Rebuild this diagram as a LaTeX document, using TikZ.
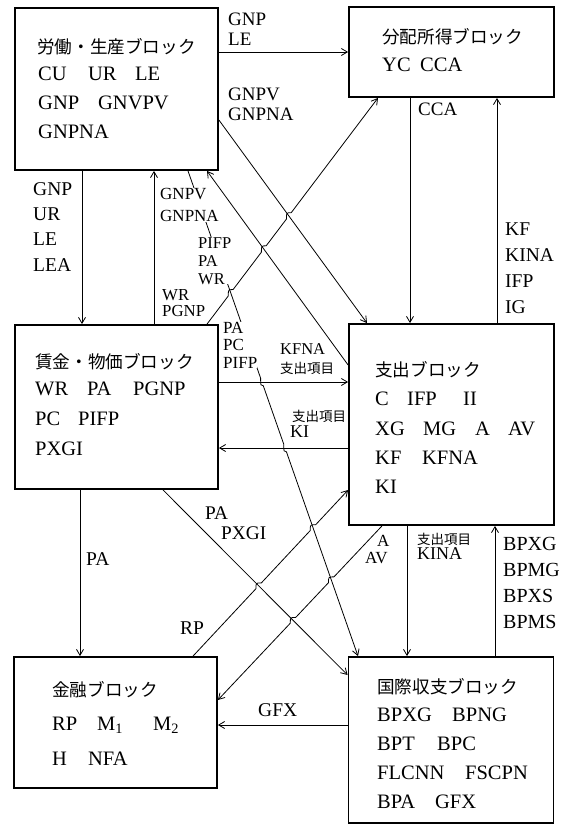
\documentclass[tikz,border=0pt]{standalone}
\usepackage{fontspec}
\setmainfont{Liberation Serif}
\newfontfamily\jpfont{Noto Sans CJK JP}
\usetikzlibrary{arrows.meta,calc,intersections}
\newcommand{\mb}[2]{\makebox[#1pt][l]{#2}}
\newcommand{\jsm}{\jpfont\fontsize{13.5}{16}\selectfont}
\begin{document}
\begin{tikzpicture}[x=1pt,y=-1pt,
 blk/.style={draw,line width=1.8pt,inner sep=0pt},
 con/.style={line width=0.8pt,-{Straight Barb[length=6pt,width=7pt,line width=0.8pt]}},
 ttl/.style={font=\jpfont\fontsize{17.6}{20}\selectfont,inner sep=0pt,anchor=west},
 bx/.style={inner sep=0pt,anchor=north west,align=left},
 lb/.style={inner sep=0pt,anchor=north west,align=left},
 wf/.style={fill=white}
]
\useasboundingbox (0,0) rectangle (571,825);
% blocks
\node[blk,minimum width=203pt,minimum height=162pt] (b1) at (116.5,89) {};
\node[blk,minimum width=205pt,minimum height=90pt] (b2) at (451.5,52) {};
\node[blk,minimum width=203pt,minimum height=164pt] (b3) at (116.5,407) {};
\node[blk,minimum width=205pt,minimum height=201pt] (b4) at (451.5,424.5) {};
\node[blk,minimum width=203pt,minimum height=131pt] (b5) at (115.5,722.5) {};
\node[blk,minimum width=205pt,minimum height=166pt] (b6) at (451,740) {};
% straight connectors
\draw[con] (b1.east |- b2.west) -- (b2.west);
\draw[con] ([xshift=-34.5pt]b1.south) -- ([xshift=-34.5pt]b3.north);
\draw[con] ([xshift=37.5pt]b3.north) -- ([xshift=37.5pt]b1.south);
\draw[con] ([xshift=-41.5pt]b2.south) -- ([xshift=-41.5pt]b4.north);
\draw[con] ([xshift=45.5pt]b4.north) -- ([xshift=45.5pt]b2.south);
\draw[con] ([xshift=-36.5pt]b3.south) -- ([xshift=-35.5pt]b5.north);
\draw[con] ([xshift=-44.5pt]b4.south) -- ([xshift=-44pt]b6.north);
\draw[con] ([xshift=44pt]b6.north) -- ([xshift=43.5pt]b4.south);
\draw[con] ([yshift=15pt]b6.west) -- ([yshift=-2.5pt]b5.east);
% end points of crossing connectors
\coordinate (s4) at ([yshift=-31pt]b1.east);   \coordinate (e4) at ([xshift=-84.5pt]b4.north);
\coordinate (s5) at ([yshift=59.5pt]b4.west);  \coordinate (e5) at ([xshift=90.5pt]b1.south);
\coordinate (s6) at ([xshift=90.5pt]b3.north); \coordinate (e6) at ([xshift=-73.5pt]b2.south);
\coordinate (s7) at ([xshift=71.5pt]b1.south); \coordinate (e7) at ([xshift=-93pt]b6.north);
\coordinate (s10) at ([yshift=25pt]b3.east);   \coordinate (e10) at ([yshift=42.5pt]b4.west);
\coordinate (s11) at ([yshift=-23.5pt]b4.west);\coordinate (e11) at ([yshift=-41pt]b3.east);
\coordinate (s12) at ([xshift=46.5pt]b3.south);\coordinate (e12) at ([yshift=65pt]b6.west);
\coordinate (s13) at ([xshift=77.5pt]b5.north);\coordinate (e13) at ([yshift=-65.5pt]b4.west);
\coordinate (s14) at ([xshift=-69.5pt]b4.south);\coordinate (e14) at ([yshift=22.5pt]b5.east);
\path[name path=P4] (s4) -- (e4);
\path[name path=P5] (s5) -- (e5);
\path[name path=P6] (s6) -- (e6);
\path[name path=P7] (s7) -- (e7);
\path[name path=P10] (s10) -- (e10);
\path[name path=P11] (s11) -- (e11);
\path[name path=P12] (s12) -- (e12);
\path[name path=P13] (s13) -- (e13);
\path[name path=P14] (s14) -- (e14);
\path[name intersections={of=P6 and P7,by=X67}];
\path[name intersections={of=P6 and P5,by=X65}];
\path[name intersections={of=P6 and P4,by=X64}];
\path[name intersections={of=P7 and P10,by=X710}];
\path[name intersections={of=P7 and P11,by=X711}];
\path[name intersections={of=P13 and P12,by=X1312}];
\path[name intersections={of=P13 and P7,by=X137}];
\path[name intersections={of=P14 and P7,by=X147}];
\path[name intersections={of=P14 and P12,by=X1412}];
% jog points
\coordinate (A67) at ($(X67)!4pt!(s6)$);  \coordinate (B67) at ($(X67)!4pt!(e6)$);
\coordinate (A65) at ($(X65)!4pt!(s6)$);  \coordinate (B65) at ($(X65)!4pt!(e6)$);
\coordinate (A64) at ($(X64)!4pt!(s6)$);  \coordinate (B64) at ($(X64)!4pt!(e6)$);
\coordinate (A710) at ($(X710)!4pt!(s7)$); \coordinate (B710) at ($(X710)!4pt!(e7)$);
\coordinate (A711) at ($(X711)!4pt!(s7)$); \coordinate (B711) at ($(X711)!4pt!(e7)$);
\coordinate (A1312) at ($(X1312)!4pt!(s13)$); \coordinate (B1312) at ($(X1312)!4pt!(e13)$);
\coordinate (A137) at ($(X137)!4pt!(s13)$); \coordinate (B137) at ($(X137)!4pt!(e13)$);
\coordinate (A147) at ($(X147)!4pt!(s14)$); \coordinate (B147) at ($(X147)!4pt!(e14)$);
\coordinate (A1412) at ($(X1412)!4pt!(s14)$); \coordinate (B1412) at ($(X1412)!4pt!(e14)$);
% crossing connectors
\draw[con] (s4) -- (e4);
\draw[con] (s5) -- (e5);
\draw[con] (s6) -- (A67) .. controls (A67 |- B67) .. (B67)
  -- (A65) .. controls (A65 |- B65) .. (B65)
  -- (A64) .. controls (A64 |- B64) .. (B64) -- (e6);
\draw[con] (s7) -- (A710) .. controls (A710 |- B710) .. (B710)
  -- (A711) .. controls (A711 |- B711) .. (B711) -- (e7);
\draw[con] (s10) -- (e10);
\draw[con] (s11) -- (e11);
\draw[con] (s12) -- (e12);
\draw[con] (s13) -- (A1312) .. controls (A1312 |- B1312) .. (B1312)
  -- (A137) .. controls (A137 |- B137) .. (B137) -- (e13);
\draw[con] (s14) -- (A147) .. controls (B147 |- A147) .. (B147)
  -- (A1412) .. controls (B1412 |- A1412) .. (B1412) -- (e14);
% connector labels
\node[lb,font=\fontsize{19}{20}\selectfont] (l1) at (228,13) {GNP\\LE};
\node[lb,font=\fontsize{19}{19.5}\selectfont] (l2) at (228,88) {GNPV\\GNPNA};
\node[lb,font=\fontsize{19.5}{25.3}\selectfont] (l3) at (33,182) {GNP\\UR\\LE\\LEA};
\node[lb,wf,font=\fontsize{17}{22}\selectfont] (l4) at (160,188) {GNPV\\GNPNA};
\node[lb,wf,font=\fontsize{16.5}{18}\selectfont] (l5) at (198,237) {PIFP\\PA\\WR};
\node[lb,font=\fontsize{16.8}{16}\selectfont] (l6) at (162,289) {WR\\PGNP};
\node[lb,wf,font=\fontsize{17}{17.5}\selectfont] (l7) at (223,322) {PA\\PC\\PIFP};
\node[lb,font=\fontsize{16.5}{19}\selectfont] (l8) at (280,343) {KFNA\\{\jsm 支出項目}};
\node[lb,font=\fontsize{18}{16}\selectfont] (l9) at (290,410) {\hspace*{2pt}{\jsm 支出項目}\\KI};
\node[lb,font=\fontsize{19.3}{20}\selectfont] (l10) at (205,507) {PA\\\hspace*{16pt}PXGI};
\node[lb,font=\fontsize{17}{17}\selectfont] (l11) at (365,535) {\hspace*{12pt}A\\AV};
\node[lb,font=\fontsize{19.5}{20}\selectfont] (l12) at (180,622) {RP};
\node[lb,font=\fontsize{19.5}{20}\selectfont] (l13) at (86,552) {PA};
\node[lb,font=\fontsize{19.5}{20}\selectfont] (l14) at (258,703) {GFX};
\node[lb,font=\fontsize{19}{20}\selectfont] (l15) at (418,103) {CCA};
\node[lb,font=\fontsize{19.5}{26}\selectfont] (l16) at (505,223) {KF\\KINA\\IFP\\IG};
\node[lb,font=\fontsize{18}{15}\selectfont] (l17) at (417,533) {{\jsm 支出項目}\\KINA};
\node[lb,font=\fontsize{20}{26}\selectfont] (l18) at (503,537) {BPXG\\BPMG\\BPXS\\BPMS};
% block contents
\node[ttl] (t1j) at (37,47) {労働・生産ブロック};
\node[bx,font=\fontsize{20.5}{29}\selectfont] (t1) at (38,67) {\mb{50}{CU}\mb{47}{UR}LE\\\mb{60}{GNP}GNVPV\\GNPNA};
\node[ttl] (t2j) at (382,37) {分配所得ブロック};
\node[bx,font=\fontsize{20.5}{29}\selectfont] (t2) at (382,58) {\mb{38}{YC}CCA};
\node[ttl] (t3j) at (35,362) {賃金・物価ブロック};
\node[bx,font=\fontsize{20.5}{30}\selectfont] (t3) at (35,382) {\mb{52}{WR}\mb{46}{PA}PGNP\\\mb{43}{PC}PIFP\\PXGI};
\node[ttl] (t4j) at (375,370) {支出ブロック};
\node[bx,font=\fontsize{20.5}{29.3}\selectfont] (t4) at (375,392) {\mb{32}{C}\mb{56}{IFP}II\\\mb{48}{XG}\mb{52}{MG}\mb{33}{A}AV\\\mb{47}{KF}KFNA\\KI};
\node[ttl] (t5j) at (52,690) {金融ブロック};
\node[bx,font=\fontsize{20.5}{35}\selectfont] (t5) at (52,717) {\mb{45}{RP}\mb{56}{M\textsubscript{1}}M\textsubscript{2}\\\mb{36}{H}NFA};
\node[ttl] (t6j) at (377,687) {国際収支ブロック};
\node[bx,font=\fontsize{20.5}{29}\selectfont] (t6) at (377,708) {\mb{75}{BPXG}BPNG\\\mb{60}{BPT}BPC\\\mb{88}{FLCNN}FSCPN\\\mb{58}{BPA}GFX};
\end{tikzpicture}
\end{document}
